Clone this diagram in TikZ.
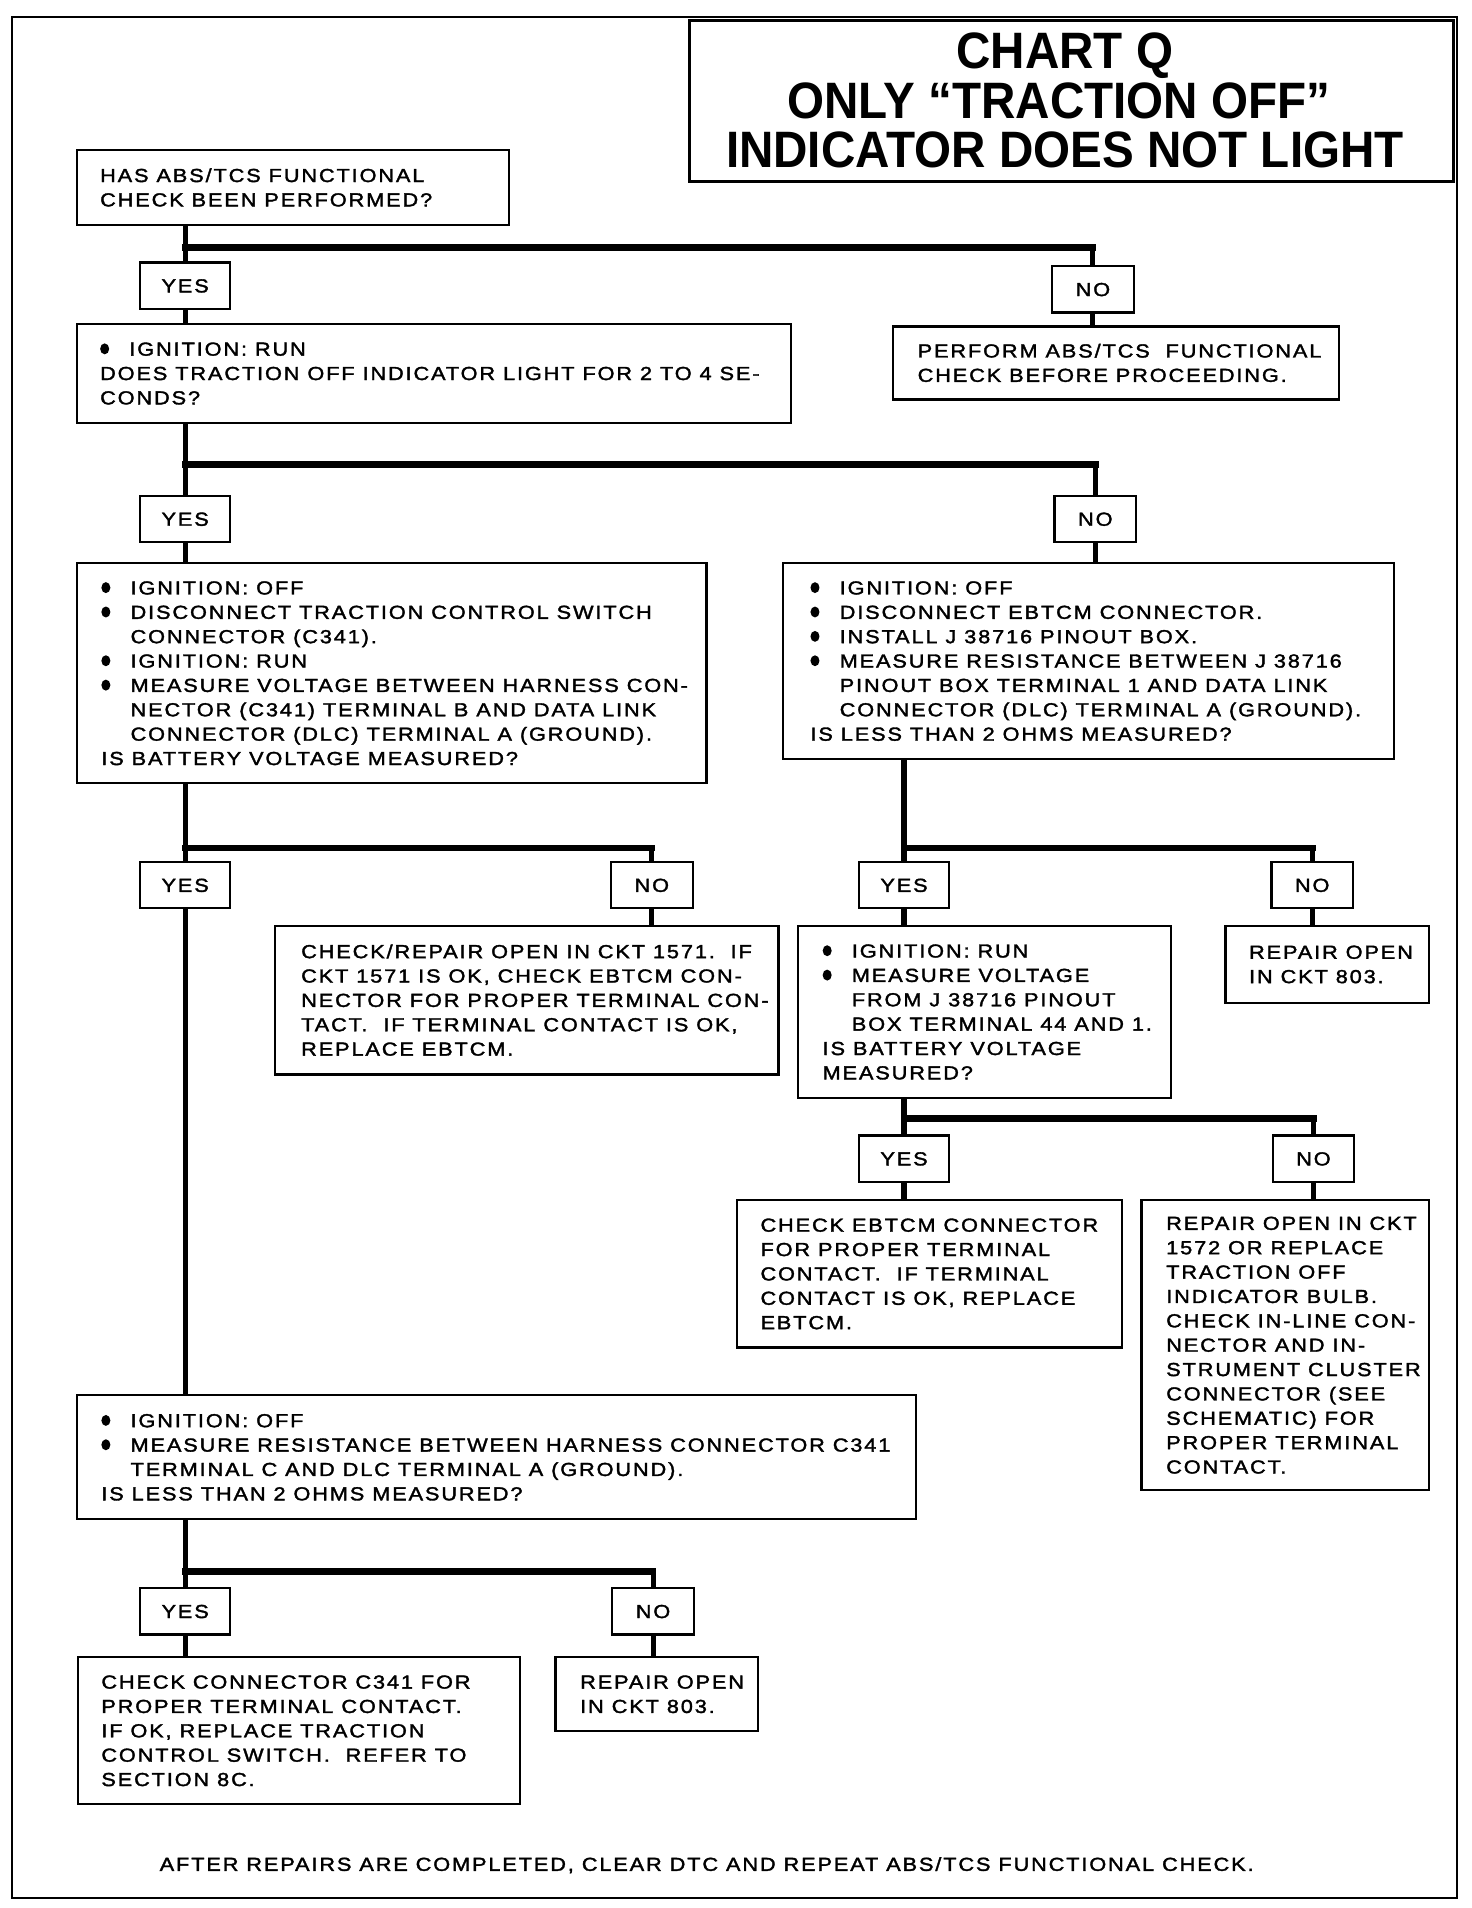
\documentclass[tikz,border=0pt]{standalone}
\usepackage{fontspec}
\setmainfont{Liberation Sans}
\newfontfamily\bodyfont{Liberation Sans}[LetterSpace=10, FakeStretch=1.15, FakeBold=1.8]
\newcommand\St{\rule[-4.5pt]{0pt}{20pt}}
\newcommand\bul{\makebox[24pt][l]{\tikz[baseline=0pt]\fill (3.6pt,5.6pt) ellipse (3.7pt and 4.5pt);}}
\newcommand\ind{\hspace*{24pt}}
\newcommand\tl[1]{\scalebox{0.93}[1]{#1}}
\begin{document}
\begin{tikzpicture}[x=1pt,y=-1pt,
  box/.style={draw, line width=1.8pt, inner sep=0pt, anchor=north west},
  yn/.style={draw, line width=1.8pt, inner sep=0pt, minimum height=38pt, text height=11pt, text depth=0pt, font=\bodyfont\fontsize{15.5}{20}\selectfont},
  yesbox/.style={yn, minimum width=74pt},
  nobox/.style={yn, minimum width=67pt},
  txt/.style={inner sep=0pt, align=left, anchor=west, font=\bodyfont\fontsize{15.5}{20}\selectfont\frenchspacing},
  conn/.style={line width=4.2pt},
  bar/.style={line width=5.5pt, line cap=rect},
  ttl/.style={inner sep=0pt, text height=30pt, text depth=0pt, font=\bfseries\fontsize{42}{40}\selectfont}]
\useasboundingbox (0,0) rectangle (1208,1566);
\draw[line width=1.8pt] (10,14) rectangle (1196,1558);
% title
\node[box, minimum width=627pt, minimum height=132pt] (T) at (565,16) {};
\node[ttl] (T1) at (874,41.5) {\tl{CHART Q}};
\node[ttl] (T2) at (869,82.5) {\tl{ONLY “TRACTION OFF”}};
\node[ttl] (T3) at (874,122.5) {\tl{INDICATOR DOES NOT LIGHT}};
% boxes
\node[box, minimum width=355pt, minimum height=62pt] (A) at (62,122) {};
\node[box, minimum width=586pt, minimum height=81pt] (B) at (62,265) {};
\node[box, minimum width=366pt, minimum height=60pt] (C) at (732,267) {};
\node[box, minimum width=517pt, minimum height=181pt] (D) at (62,461) {};
\node[box, minimum width=501pt, minimum height=161pt] (E) at (642,461) {};
\node[box, minimum width=413pt, minimum height=122pt] (F) at (225,759) {};
\node[box, minimum width=306pt, minimum height=141pt] (G) at (654,759) {};
\node[box, minimum width=167pt, minimum height=63pt] (H) at (1005,759) {};
\node[box, minimum width=316pt, minimum height=121pt] (I) at (604,984) {};
\node[box, minimum width=236pt, minimum height=238pt] (J) at (936,984) {};
\node[box, minimum width=689pt, minimum height=102pt] (K) at (62,1144) {};
\node[box, minimum width=363pt, minimum height=121pt] (L) at (63,1359) {};
\node[box, minimum width=166pt, minimum height=61pt] (M) at (455,1359) {};
% yes / no
\node[yesbox] (Y1) at (152,234.5) {YES};
\node[nobox]  (N1) at (897,237.5) {NO};
\node[yesbox] (Y2) at (152,426) {YES};
\node[nobox]  (N2) at (899,426) {NO};
\node[yesbox] (Y3) at (152,726.5) {YES};
\node[nobox]  (N3) at (535,726.5) {NO};
\node[yesbox] (Y4) at (742,726.5) {YES};
\node[nobox]  (N4) at (1077,726.5) {NO};
\node[yesbox] (Y5) at (742,951) {YES};
\node[nobox]  (N5) at (1078,951) {NO};
\node[yesbox] (Y6) at (152,1322.5) {YES};
\node[nobox]  (N6) at (536,1322.5) {NO};
% bar levels
\coordinate (b1) at (0,203);
\coordinate (b2) at (0,381);
\coordinate (b3) at (0,696);
\coordinate (b4) at (0,696);
\coordinate (b5) at (0,918);
\coordinate (b6) at (0,1290);
% connectors
\draw[conn] (A.south -| Y1) -- (Y1.north);
\draw[bar] (Y1 |- b1) -- (N1 |- b1);
\draw[conn] (N1 |- b1) -- (N1.north);
\draw[conn] (Y1.south) -- (B.north -| Y1);
\draw[conn] (N1.south) -- (C.north -| N1);
\draw[conn] (B.south -| Y2) -- (Y2.north);
\draw[bar] (Y2 |- b2) -- (N2 |- b2);
\draw[conn] (N2 |- b2) -- (N2.north);
\draw[conn] (Y2.south) -- (D.north -| Y2);
\draw[conn] (N2.south) -- (E.north -| N2);
\draw[conn] (D.south -| Y3) -- (Y3.north);
\draw[bar] (Y3 |- b3) -- (N3 |- b3);
\draw[conn] (N3 |- b3) -- (N3.north);
\draw[conn] (Y3.south) -- (K.north -| Y3);
\draw[conn] (N3.south) -- (F.north -| N3);
\draw[conn] (E.south -| Y4) -- (Y4.north);
\draw[bar] (Y4 |- b4) -- (N4 |- b4);
\draw[conn] (N4 |- b4) -- (N4.north);
\draw[conn] (Y4.south) -- (G.north -| Y4);
\draw[conn] (N4.south) -- (H.north -| N4);
\draw[conn] (G.south -| Y5) -- (Y5.north);
\draw[bar] (Y5 |- b5) -- (N5 |- b5);
\draw[conn] (N5 |- b5) -- (N5.north);
\draw[conn] (Y5.south) -- (I.north -| Y5);
\draw[conn] (N5.south) -- (J.north -| N5);
\draw[conn] (K.south -| Y6) -- (Y6.north);
\draw[bar] (Y6 |- b6) -- (N6 |- b6);
\draw[conn] (N6 |- b6) -- (N6.north);
\draw[conn] (Y6.south) -- (L.north -| Y6);
\draw[conn] (N6.south) -- (M.north -| N6);
% texts
\node[txt] (At) at ([xshift=20pt]A.west) {\St HAS ABS/TCS FUNCTIONAL\\\St CHECK BEEN PERFORMED?};
\node[txt] (Bt) at ([xshift=20pt]B.west) {\St\bul IGNITION: RUN\\\St DOES TRACTION OFF INDICATOR LIGHT FOR 2 TO 4 SE-\\\St CONDS?};
\node[txt] (Ct) at ([xshift=21pt]C.west) {\St PERFORM ABS/TCS\ \ FUNCTIONAL\\\St CHECK BEFORE PROCEEDING.};
\node[txt] (Dt) at ([xshift=21pt]D.west) {\St\bul IGNITION: OFF\\\St\bul DISCONNECT TRACTION CONTROL SWITCH\\\St\ind CONNECTOR (C341).\\\St\bul IGNITION: RUN\\\St\bul MEASURE VOLTAGE BETWEEN HARNESS CON-\\\St\ind NECTOR (C341) TERMINAL B AND DATA LINK\\\St\ind CONNECTOR (DLC) TERMINAL A (GROUND).\\\St IS BATTERY VOLTAGE MEASURED?};
\node[txt] (Et) at ([xshift=23pt]E.west) {\St\bul IGNITION: OFF\\\St\bul DISCONNECT EBTCM CONNECTOR.\\\St\bul INSTALL J 38716 PINOUT BOX.\\\St\bul MEASURE RESISTANCE BETWEEN J 38716\\\St\ind PINOUT BOX TERMINAL 1 AND DATA LINK\\\St\ind CONNECTOR (DLC) TERMINAL A (GROUND).\\\St IS LESS THAN 2 OHMS MEASURED?};
\node[txt] (Ft) at ([xshift=22pt]F.west) {\St CHECK/REPAIR OPEN IN CKT 1571.\ \ IF\\\St CKT 1571 IS OK, CHECK EBTCM CON-\\\St NECTOR FOR PROPER TERMINAL CON-\\\St TACT.\ \ IF TERMINAL CONTACT IS OK,\\\St REPLACE EBTCM.};
\node[txt] (Gt) at ([xshift=21pt]G.west) {\St\bul IGNITION: RUN\\\St\bul MEASURE VOLTAGE\\\St\ind FROM J 38716 PINOUT\\\St\ind BOX TERMINAL 44 AND 1.\\\St IS BATTERY VOLTAGE\\\St MEASURED?};
\node[txt] (Ht) at ([xshift=20pt]H.west) {\St REPAIR OPEN\\\St IN CKT 803.};
\node[txt] (It) at ([xshift=20pt]I.west) {\St CHECK EBTCM CONNECTOR\\\St FOR PROPER TERMINAL\\\St CONTACT.\ \ IF TERMINAL\\\St CONTACT IS OK, REPLACE\\\St EBTCM.};
\node[txt] (Jt) at ([xshift=21pt]J.west) {\St REPAIR OPEN IN CKT\\\St 1572 OR REPLACE\\\St TRACTION OFF\\\St INDICATOR BULB.\\\St CHECK IN-LINE CON-\\\St NECTOR AND IN-\\\St STRUMENT CLUSTER\\\St CONNECTOR (SEE\\\St SCHEMATIC) FOR\\\St PROPER TERMINAL\\\St CONTACT.};
\node[txt] (Kt) at ([xshift=21pt]K.west) {\St\bul IGNITION: OFF\\\St\bul MEASURE RESISTANCE BETWEEN HARNESS CONNECTOR C341\\\St\ind TERMINAL C AND DLC TERMINAL A (GROUND).\\\St IS LESS THAN 2 OHMS MEASURED?};
\node[txt] (Lt) at ([xshift=20pt]L.west) {\St CHECK CONNECTOR C341 FOR\\\St PROPER TERMINAL CONTACT.\\\St IF OK, REPLACE TRACTION\\\St CONTROL SWITCH.\ \ REFER TO\\\St SECTION 8C.};
\node[txt] (Mt) at ([xshift=21pt]M.west) {\St REPAIR OPEN\\\St IN CKT 803.};
\node[txt, anchor=center] (foot) at (580,1530) {\St AFTER REPAIRS ARE COMPLETED, CLEAR DTC AND REPEAT ABS/TCS FUNCTIONAL CHECK.};
\end{tikzpicture}
\end{document}
